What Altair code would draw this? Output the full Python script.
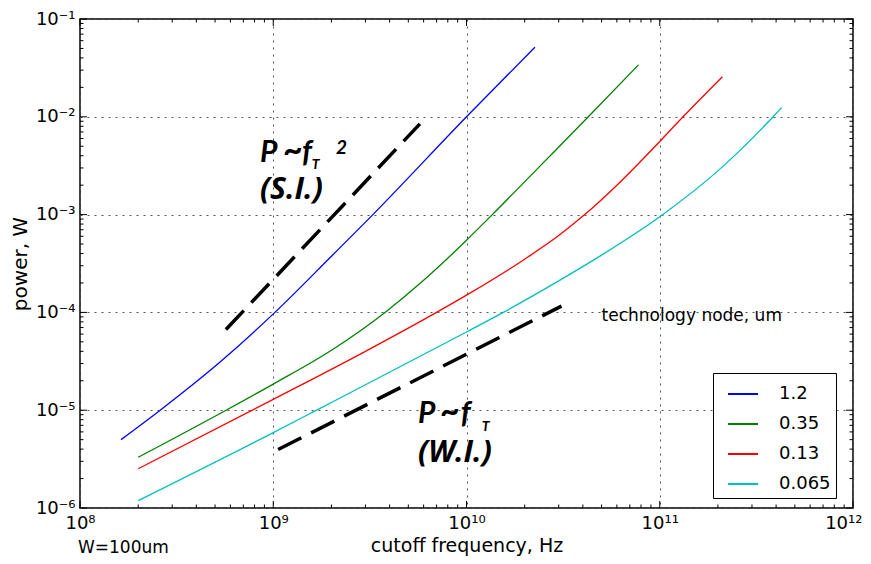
import json
import altair as alt
import pandas as pd

# ---------------- data ----------------
nodes = ["1.2", "0.35", "0.13", "0.065"]
colors = ["#0000ff", "#008000", "#ff0000", "#00bfbf"]

f_12 = [1.63e8, 2.6e8, 5.4e8, 1.02e9, 2.0e9, 3.28e9, 1.0e10, 2.26e10]
p_12 = [5.0e-6, 1.0e-5, 3.2e-5, 1.0e-4, 3.75e-4, 1.0e-3, 1.0e-2, 5.15e-2]

f_035 = [2.0e8, 5.7e8, 1.0e9, 2.0e9, 3.86e9, 6.0e9, 1.0e10, 1.36e10, 2.5e10, 4.27e10, 7.76e10]
p_035 = [3.3e-6, 1.0e-5, 1.85e-5, 4.1e-5, 1.03e-4, 2.13e-4, 5.47e-4, 1.0e-3, 3.4e-3, 1.0e-2, 3.4e-2]

f_013 = [2.0e8, 1.0e9, 3.0e9, 7.0e9, 1.0e10, 2.0e10, 3.0e10, 4.09e10, 6.0e10, 1.0e11, 1.32e11, 2.11e11]
p_013 = [2.52e-6, 1.29e-5, 4.0e-5, 1.0e-4, 1.5e-4, 3.5e-4, 6.1e-4, 1.0e-3, 2.0e-3, 5.6e-3, 1.0e-2, 2.57e-2]

f_0065 = [2.0e8, 1.0e9, 1.61e9, 1.0e10, 1.55e10, 3.0e10, 5.0e10, 1.0e11, 2.13e11, 3.86e11, 4.27e11]
p_0065 = [1.19e-6, 5.9e-6, 9.6e-6, 6.3e-5, 1.0e-4, 2.1e-4, 3.85e-4, 9.5e-4, 3.13e-3, 1.0e-2, 1.24e-2]

# guide lines (slope 2 and slope 1)
si_f = [5.69e8, 5.74e9]
si_p = [6.68e-5, 8.47e-3]
wi_f = [1.06e9, 3.1e10]
wi_p = [3.96e-6, 1.16e-4]

x_ticks = [1e8, 1e9, 1e10, 1e11, 1e12]
x_labels = ["10⁸", "10⁹", "10¹⁰", "10¹¹", "10¹²"]
y_ticks = [1e-6, 1e-5, 1e-4, 1e-3, 1e-2, 1e-1]
y_labels = ["10⁻⁶", "10⁻⁵", "10⁻⁴", "10⁻³", "10⁻²", "10⁻¹"]
minor_mult = [2, 3, 4, 5, 6, 7, 8, 9]

# annotations (data coordinates)
ann_text = ["P", "~", "f", "T", "2", "P", "~", "f", "T"]
ann_f = [8.53e8, 1.123e9, 1.408e9, 1.58e9, 2.11e9, 5.61e9, 7.29e9, 9.35e9, 1.2e10]
ann_p = [3.49e-3, 3.49e-3, 3.49e-3, 2.96e-3, 4.12e-3, 7.48e-6, 7.48e-6, 7.48e-6, 6.2e-6]
ann_size = [30, 34, 30, 14, 19, 30, 34, 30, 14]

paren_text = ["(S.I.)", "(W.I.)"]
paren_f = [8.53e8, 5.61e9]
paren_p = [1.43e-3, 2.98e-6]

note_text = ["technology node, um"]
note_f = [5.0e10]
note_p = [8.26e-5]

# ---------------- build tables ----------------
rows = []
for node, fs, ps in zip(nodes, [f_12, f_035, f_013, f_0065], [p_12, p_035, p_013, p_0065]):
    for f, p in zip(fs, ps):
        rows.append({"node": node, "f": f, "p": p})
curves_df = pd.DataFrame(rows)

guide_df = pd.DataFrame(
    [{"g": "si", "f": f, "p": p} for f, p in zip(si_f, si_p)]
    + [{"g": "wi", "f": f, "p": p} for f, p in zip(wi_f, wi_p)]
)
ann_df = pd.DataFrame({"t": ann_text, "f": ann_f, "p": ann_p, "s": ann_size})
paren_df = pd.DataFrame({"t": paren_text, "f": paren_f, "p": paren_p})
note_df = pd.DataFrame({"t": note_text, "f": note_f, "p": note_p})

x_minor = [m * d for d in x_ticks[:-1] for m in minor_mult]
y_minor = [m * d for d in y_ticks[:-1] for m in minor_mult]

W, H = 773, 489
MAJ, MIN = 7, 3.5

xs = alt.Scale(type="log", domain=[1e8, 1e12])
ys = alt.Scale(type="log", domain=[1e-6, 1e-1])

x_expr = "%s[round(log(datum.value)/LN10) - 8]" % json.dumps(x_labels, ensure_ascii=False)
y_expr = "%s[round(log(datum.value)/LN10) + 6]" % json.dumps(y_labels, ensure_ascii=False)

x_axis = alt.Axis(
    values=x_ticks, labelExpr=x_expr, grid=True, ticks=False, tickSize=0,
    domain=False, title="cutoff frequency, Hz", labelPadding=6, titlePadding=4,
    labelFlush=False, labelOverlap=False,
    labelAlign={"condition": {"test": "datum.value >= 1e12", "value": "right"}, "value": "center"},
    labelOffset={"condition": {"test": "datum.value >= 1e12", "value": 9}, "value": 0},
)
y_axis = alt.Axis(values=y_ticks, labelExpr=y_expr, grid=True, ticks=False, tickSize=0,
                  domain=False, title="power, W", labelPadding=5, titlePadding=5,
                  titleFontSize=20, labelFlush=False, labelOverlap=False)


def X():
    return alt.X("f:Q", scale=xs, axis=x_axis)


def Y():
    return alt.Y("p:Q", scale=ys, axis=y_axis)


curves = alt.Chart(curves_df).mark_line(strokeWidth=1.3, interpolate="monotone").encode(
    x=X(),
    y=Y(),
    color=alt.Color(
        "node:N",
        scale=alt.Scale(domain=nodes, range=colors),
        sort=nodes,
        legend=alt.Legend(
            orient="none", legendX=633, legendY=354, title=None,
            padding=5, symbolType="stroke", symbolSize=900, symbolStrokeWidth=2,
            symbolOffset=9, labelOffset=20, labelFontSize=18, labelFont="DejaVu Sans",
            labelColor="#000", rowPadding=5, strokeColor="#000", fillColor="white",
            labelExpr="datum.label + '   '",
        ),
    ),
)

guides = alt.Chart(guide_df).mark_line(strokeWidth=3.5, strokeDash=[26, 11], color="black").encode(
    x=X(), y=Y(), detail="g:N",
)

ann = alt.Chart(ann_df).mark_text(align="left", baseline="alphabetic", font="Lato",
                                  fontStyle="italic", fontWeight="bold", color="black").encode(
    x=X(), y=Y(), text="t:N",
    size=alt.Size("s:Q", scale=None, legend=None),
)

paren = alt.Chart(paren_df).mark_text(align="left", baseline="alphabetic", font="Open Sans",
                                      fontStyle="italic", fontWeight="bold", fontSize=30,
                                      color="black").encode(
    x=X(), y=Y(), text="t:N",
)

note = alt.Chart(note_df).mark_text(align="left", baseline="alphabetic", font="DejaVu Sans",
                                    fontSize=17, color="black").encode(
    x=X(), y=Y(), text="t:N",
)

wnote = alt.Chart(pd.DataFrame({"t": ["W=100um"]})).mark_text(
    align="left", baseline="alphabetic", font="DejaVu Sans", fontSize=17, color="black"
).encode(x=alt.value(-2), y=alt.value(534), text="t:N")


def xticks(vals, length):
    d = pd.DataFrame({"f": vals})
    bot = alt.Chart(d).mark_rule(color="black", strokeWidth=1).encode(
        x=X(), y=alt.value(H), y2=alt.value(H - length))
    top = alt.Chart(d).mark_rule(color="black", strokeWidth=1).encode(
        x=X(), y=alt.value(0), y2=alt.value(length))
    return [bot, top]


def yticks(vals, length):
    d = pd.DataFrame({"p": vals})
    left = alt.Chart(d).mark_rule(color="black", strokeWidth=1).encode(
        y=Y(), x=alt.value(0), x2=alt.value(length))
    right = alt.Chart(d).mark_rule(color="black", strokeWidth=1).encode(
        y=Y(), x=alt.value(W), x2=alt.value(W - length))
    return [left, right]


tick_layers = xticks(x_ticks, MAJ) + xticks(x_minor, MIN) + yticks(y_ticks, MAJ) + yticks(y_minor, MIN)

chart = alt.layer(curves, guides, ann, paren, note, wnote, *tick_layers).properties(
    width=W, height=H,
    background="white",
    autosize=alt.AutoSizeParams(type="none"),
    padding={"left": 72, "top": 11, "right": 10, "bottom": 48},
).configure_view(
    stroke="#000", strokeWidth=1.5
).configure_axis(
    labelFont="DejaVu Sans", labelFontSize=18, labelColor="#000",
    titleFont="DejaVu Sans", titleFontSize=19, titleFontWeight="normal", titleColor="#000",
    gridColor="#555", gridDash=[2, 5], gridWidth=1,
)

chart.save("out.html", embed_options={"renderer": "svg", "actions": False})
